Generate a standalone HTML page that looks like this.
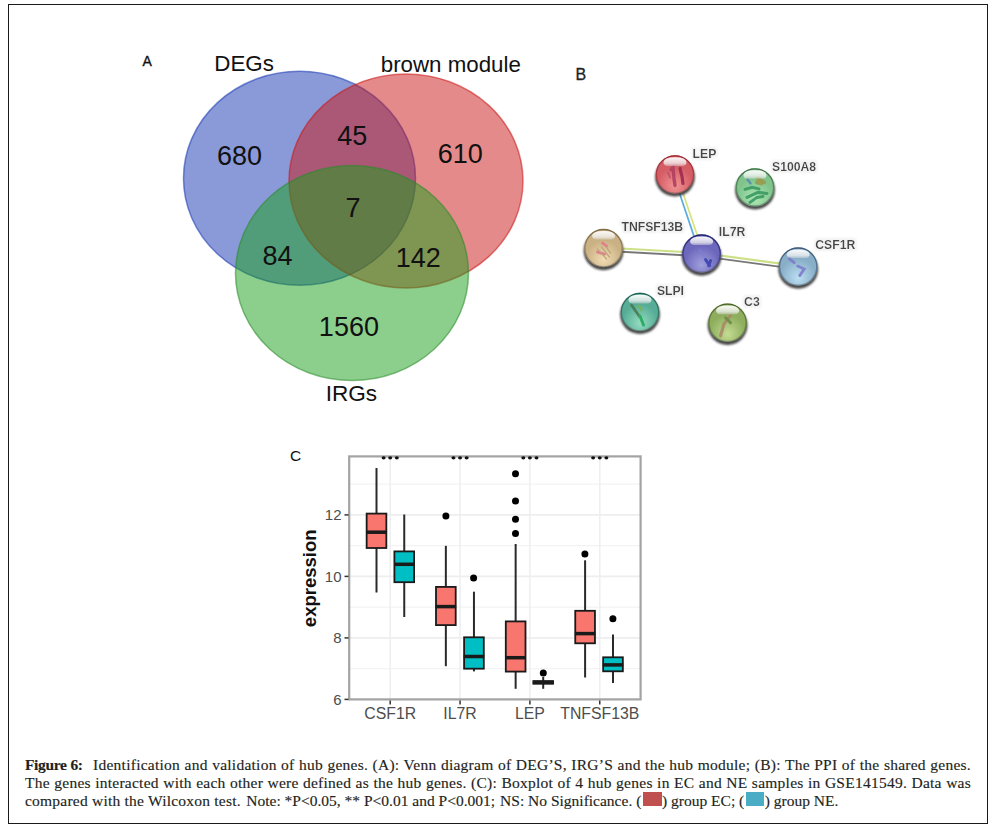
<!DOCTYPE html>
<html><head><meta charset="utf-8">
<style>
html,body{margin:0;padding:0;background:#fff;}
body{width:993px;height:829px;position:relative;overflow:hidden;}
#frame{position:absolute;left:8px;top:4px;width:980px;height:820px;box-sizing:border-box;border:1px solid #1a1a1a;}
svg{position:absolute;left:0;top:0;}
.cap{position:absolute;left:25px;width:946px;font-family:"Liberation Serif",serif;font-size:15.5px;color:#231f20;white-space:nowrap;text-align:justify;text-align-last:justify;line-height:18px;letter-spacing:0.25px;-webkit-text-stroke:0.15px #231f20;}
.cap3{position:absolute;left:25px;width:946px;height:18px;font-family:"Liberation Serif",serif;font-size:15.5px;color:#231f20;white-space:nowrap;line-height:18px;-webkit-text-stroke:0.15px #231f20;}
.cap3 span{position:absolute;top:0;}
.sw{position:absolute;top:0px;width:18.8px;height:13.8px;}
</style></head>
<body>
<div id="frame"></div>
<svg width="993" height="829" viewBox="0 0 993 829">
  <!-- Panel A: Venn -->
  <g font-family="Liberation Sans, sans-serif">
    <text x="142.5" y="66" font-size="14" fill="#111" stroke="#111" stroke-width="0.35">A</text>
    <ellipse cx="299.5" cy="178.3" rx="116" ry="107" fill="#1535b1" fill-opacity="0.5" stroke="#1535b1" stroke-opacity="0.55" stroke-width="1.5"/>
    <ellipse cx="406" cy="181" rx="117" ry="107" fill="#cb1515" fill-opacity="0.5" stroke="#cb1515" stroke-opacity="0.55" stroke-width="1.5"/>
    <ellipse cx="352" cy="273" rx="116.5" ry="107.5" fill="#199f19" fill-opacity="0.5" stroke="#2a8a2a" stroke-opacity="0.55" stroke-width="1.5"/>
    <g fill="#111" font-size="27" text-anchor="middle">
      <text x="239.5" y="165">680</text>
      <text x="352.3" y="145">45</text>
      <text x="460.3" y="163.4">610</text>
      <text x="353" y="216.7">7</text>
      <text x="277.5" y="264.9">84</text>
      <text x="418.3" y="267.4">142</text>
      <text x="348.9" y="336">1560</text>
    </g>
    <g fill="#111" font-size="21.5" text-anchor="middle">
      <text transform="translate(244.1,71.1) scale(1.04,1)">DEGs</text>
      <text transform="translate(450.8,71.6) scale(1.038,1)">brown module</text>
      <text transform="translate(351.4,400.7) scale(1.05,1)">IRGs</text>
    </g>
  </g>
<g stroke="#eeeeee" fill="none">
<line x1="349" x2="641" y1="668.65" y2="668.65" stroke="#f3f3f3" stroke-width="1.1"/>
<line x1="349" x2="641" y1="607.15" y2="607.15" stroke="#f3f3f3" stroke-width="1.1"/>
<line x1="349" x2="641" y1="545.65" y2="545.65" stroke="#f3f3f3" stroke-width="1.1"/>
<line x1="349" x2="641" y1="484.15" y2="484.15" stroke="#f3f3f3" stroke-width="1.1"/>
<line x1="349" x2="641" y1="637.90" y2="637.90" stroke-width="1.6"/>
<line x1="349" x2="641" y1="576.40" y2="576.40" stroke-width="1.6"/>
<line x1="349" x2="641" y1="514.90" y2="514.90" stroke-width="1.6"/>
<line x1="390.2" x2="390.2" y1="456" y2="700" stroke="#edeff3" stroke-width="1.6"/>
<line x1="460.05" x2="460.05" y1="456" y2="700" stroke="#edeff3" stroke-width="1.6"/>
<line x1="529.9" x2="529.9" y1="456" y2="700" stroke="#edeff3" stroke-width="1.6"/>
<line x1="599.75" x2="599.75" y1="456" y2="700" stroke="#edeff3" stroke-width="1.6"/>
</g>
<g stroke="#1a1a1a">
<line x1="376.5" x2="376.5" y1="468" y2="592.5" stroke="#2a2a2a" stroke-width="2"/>
<rect x="366.65" y="513.60" width="19.70" height="34.40" fill="#f8766d" stroke-width="1.8"/>
<line x1="366.25" x2="386.75" y1="532.2" y2="532.2" stroke-width="3.5"/>
<line x1="404.25" x2="404.25" y1="514.5" y2="617" stroke="#2a2a2a" stroke-width="2"/>
<rect x="394.40" y="551.40" width="19.70" height="30.80" fill="#00bfc4" stroke-width="1.8"/>
<line x1="394.00" x2="414.50" y1="564.3" y2="564.3" stroke-width="3.5"/>
<line x1="445.85" x2="445.85" y1="545.8" y2="666.2" stroke="#2a2a2a" stroke-width="2"/>
<rect x="436.00" y="586.90" width="19.70" height="38.20" fill="#f8766d" stroke-width="1.8"/>
<line x1="435.60" x2="456.10" y1="606.6" y2="606.6" stroke-width="3.5"/>
<line x1="473.95" x2="473.95" y1="591.7" y2="671.4" stroke="#2a2a2a" stroke-width="2"/>
<rect x="464.10" y="637.30" width="19.70" height="31.40" fill="#00bfc4" stroke-width="1.8"/>
<line x1="463.70" x2="484.20" y1="656.5" y2="656.5" stroke-width="3.5"/>
<line x1="515.65" x2="515.65" y1="544" y2="688.8" stroke="#2a2a2a" stroke-width="2"/>
<rect x="505.80" y="621.40" width="19.70" height="50.20" fill="#f8766d" stroke-width="1.8"/>
<line x1="505.40" x2="525.90" y1="657.7" y2="657.7" stroke-width="3.5"/>
<line x1="543.2" x2="543.2" y1="677" y2="688.8" stroke="#2a2a2a" stroke-width="2"/>
<rect x="533.35" y="681.10" width="19.70" height="2.60" fill="#00bfc4" stroke-width="1.8"/>
<line x1="532.95" x2="553.45" y1="682.4" y2="682.4" stroke-width="3.5"/>
<line x1="585.1" x2="585.1" y1="560.3" y2="677.5" stroke="#2a2a2a" stroke-width="2"/>
<rect x="575.25" y="610.80" width="19.70" height="32.50" fill="#f8766d" stroke-width="1.8"/>
<line x1="574.85" x2="595.35" y1="633.6" y2="633.6" stroke-width="3.5"/>
<line x1="613.0" x2="613.0" y1="634.6" y2="682.9" stroke="#2a2a2a" stroke-width="2"/>
<rect x="603.15" y="657.30" width="19.70" height="14.00" fill="#00bfc4" stroke-width="1.8"/>
<line x1="602.75" x2="623.25" y1="664.9" y2="664.9" stroke-width="3.5"/>
</g>
<g fill="#000">
<circle cx="445.9" cy="516" r="3.5"/>
<circle cx="473.6" cy="577.9" r="3.5"/>
<circle cx="515.5" cy="473.7" r="3.5"/>
<circle cx="515.5" cy="501" r="3.5"/>
<circle cx="515.5" cy="519.3" r="3.5"/>
<circle cx="515.5" cy="533.5" r="3.5"/>
<circle cx="543.3" cy="673.1" r="3.5"/>
<circle cx="584.9" cy="553.9" r="3.5"/>
<circle cx="612.9" cy="618.8" r="3.5"/>
</g>
<rect x="349.2" y="456.4" width="291.4" height="243" fill="none" stroke="#a3a3a3" stroke-width="2.2"/>
<g fill="#111">
<ellipse cx="383.60" cy="457.8" rx="2" ry="1.6"/>
<ellipse cx="390.20" cy="457.8" rx="2" ry="1.6"/>
<ellipse cx="396.80" cy="457.8" rx="2" ry="1.6"/>
<ellipse cx="453.45" cy="457.8" rx="2" ry="1.6"/>
<ellipse cx="460.05" cy="457.8" rx="2" ry="1.6"/>
<ellipse cx="466.65" cy="457.8" rx="2" ry="1.6"/>
<ellipse cx="523.30" cy="457.8" rx="2" ry="1.6"/>
<ellipse cx="529.90" cy="457.8" rx="2" ry="1.6"/>
<ellipse cx="536.50" cy="457.8" rx="2" ry="1.6"/>
<ellipse cx="593.15" cy="457.8" rx="2" ry="1.6"/>
<ellipse cx="599.75" cy="457.8" rx="2" ry="1.6"/>
<ellipse cx="606.35" cy="457.8" rx="2" ry="1.6"/>
</g>
<g stroke="#333" stroke-width="1.5">
<line x1="344.5" x2="348.5" y1="699.40" y2="699.40"/>
<line x1="344.5" x2="348.5" y1="637.90" y2="637.90"/>
<line x1="344.5" x2="348.5" y1="576.40" y2="576.40"/>
<line x1="344.5" x2="348.5" y1="514.90" y2="514.90"/>
<line x1="390.2" x2="390.2" y1="700.5" y2="704.5"/>
<line x1="460.05" x2="460.05" y1="700.5" y2="704.5"/>
<line x1="529.9" x2="529.9" y1="700.5" y2="704.5"/>
<line x1="599.75" x2="599.75" y1="700.5" y2="704.5"/>
</g>
<g fill="#4d4d4d" font-size="15" font-family="Liberation Sans, sans-serif">
<text x="341.5" y="704.70" text-anchor="end">6</text>
<text x="341.5" y="643.20" text-anchor="end">8</text>
<text x="341.5" y="581.70" text-anchor="end">10</text>
<text x="341.5" y="520.20" text-anchor="end">12</text>
<text x="390.2" y="719" text-anchor="middle" font-size="15.8">CSF1R</text>
<text x="460.05" y="719" text-anchor="middle" font-size="15.8">IL7R</text>
<text x="529.9" y="719" text-anchor="middle" font-size="15.8">LEP</text>
<text x="599.75" y="719" text-anchor="middle" font-size="15.8">TNFSF13B</text>
</g>
<text x="0" y="0" transform="translate(315.5,578.3) rotate(-90)" text-anchor="middle" font-size="18.5" font-weight="bold" fill="#111" font-family="Liberation Sans, sans-serif">expression</text>
<text x="290" y="461.3" font-size="15.5" fill="#111" font-family="Liberation Sans, sans-serif">C</text>
<defs>
<filter id="blur1" x="-30%" y="-30%" width="160%" height="160%"><feGaussianBlur stdDeviation="1"/></filter>
<filter id="blur05" x="-30%" y="-30%" width="160%" height="160%"><feGaussianBlur stdDeviation="0.45"/></filter>
<filter id="halo" x="-10%" y="-30%" width="120%" height="160%"><feMorphology operator="dilate" radius="1.5" in="SourceAlpha" result="d"/><feGaussianBlur in="d" stdDeviation="1" result="b"/><feFlood flood-color="#f2f2f2"/><feComposite in2="b" operator="in" result="h"/><feMerge><feMergeNode in="h"/><feMergeNode in="SourceGraphic"/></feMerge></filter>
<radialGradient id="g_LEP" cx="0.5" cy="0.74" r="0.62" fx="0.5" fy="0.8"><stop offset="0" stop-color="#f29494"/><stop offset="0.75" stop-color="#d45c64"/><stop offset="1" stop-color="#d45c64"/></radialGradient>
<linearGradient id="r_LEP" x1="0" y1="0" x2="0" y2="1"><stop offset="0" stop-color="#9a2a30"/><stop offset="0.6" stop-color="#9a2a30" stop-opacity="0.6"/><stop offset="1" stop-color="#555" stop-opacity="0.5"/></linearGradient>
<radialGradient id="g_S100A8" cx="0.5" cy="0.74" r="0.62" fx="0.5" fy="0.8"><stop offset="0" stop-color="#aee8b6"/><stop offset="0.75" stop-color="#80c48c"/><stop offset="1" stop-color="#80c48c"/></radialGradient>
<linearGradient id="r_S100A8" x1="0" y1="0" x2="0" y2="1"><stop offset="0" stop-color="#3e6e46"/><stop offset="0.6" stop-color="#3e6e46" stop-opacity="0.6"/><stop offset="1" stop-color="#555" stop-opacity="0.5"/></linearGradient>
<radialGradient id="g_TNFSF13B" cx="0.5" cy="0.74" r="0.62" fx="0.5" fy="0.8"><stop offset="0" stop-color="#f2dcb4"/><stop offset="0.75" stop-color="#c9b184"/><stop offset="1" stop-color="#c9b184"/></radialGradient>
<linearGradient id="r_TNFSF13B" x1="0" y1="0" x2="0" y2="1"><stop offset="0" stop-color="#7e6e48"/><stop offset="0.6" stop-color="#7e6e48" stop-opacity="0.6"/><stop offset="1" stop-color="#555" stop-opacity="0.5"/></linearGradient>
<radialGradient id="g_IL7R" cx="0.5" cy="0.74" r="0.62" fx="0.5" fy="0.8"><stop offset="0" stop-color="#a0a0dc"/><stop offset="0.75" stop-color="#6c66bc"/><stop offset="1" stop-color="#6c66bc"/></radialGradient>
<linearGradient id="r_IL7R" x1="0" y1="0" x2="0" y2="1"><stop offset="0" stop-color="#262670"/><stop offset="0.6" stop-color="#262670" stop-opacity="0.6"/><stop offset="1" stop-color="#555" stop-opacity="0.5"/></linearGradient>
<radialGradient id="g_CSF1R" cx="0.5" cy="0.74" r="0.62" fx="0.5" fy="0.8"><stop offset="0" stop-color="#bcdff2"/><stop offset="0.75" stop-color="#88aec8"/><stop offset="1" stop-color="#88aec8"/></radialGradient>
<linearGradient id="r_CSF1R" x1="0" y1="0" x2="0" y2="1"><stop offset="0" stop-color="#3e5a78"/><stop offset="0.6" stop-color="#3e5a78" stop-opacity="0.6"/><stop offset="1" stop-color="#555" stop-opacity="0.5"/></linearGradient>
<radialGradient id="g_SLPI" cx="0.5" cy="0.74" r="0.62" fx="0.5" fy="0.8"><stop offset="0" stop-color="#94dcc0"/><stop offset="0.75" stop-color="#56ac96"/><stop offset="1" stop-color="#56ac96"/></radialGradient>
<linearGradient id="r_SLPI" x1="0" y1="0" x2="0" y2="1"><stop offset="0" stop-color="#245e50"/><stop offset="0.6" stop-color="#245e50" stop-opacity="0.6"/><stop offset="1" stop-color="#555" stop-opacity="0.5"/></linearGradient>
<radialGradient id="g_C3" cx="0.5" cy="0.74" r="0.62" fx="0.5" fy="0.8"><stop offset="0" stop-color="#c4dc92"/><stop offset="0.75" stop-color="#8eae5e"/><stop offset="1" stop-color="#8eae5e"/></radialGradient>
<linearGradient id="r_C3" x1="0" y1="0" x2="0" y2="1"><stop offset="0" stop-color="#4a6428"/><stop offset="0.6" stop-color="#4a6428" stop-opacity="0.6"/><stop offset="1" stop-color="#555" stop-opacity="0.5"/></linearGradient>
<linearGradient id="hl" x1="0" y1="0" x2="0" y2="1"><stop offset="0" stop-color="#fff" stop-opacity="0.95"/><stop offset="0.7" stop-color="#f4f4f4" stop-opacity="0.75"/><stop offset="1" stop-color="#ddd" stop-opacity="0.45"/></linearGradient>
</defs>
<g>
<line x1="673.39" y1="175.04" x2="699.99" y2="254.14" stroke="#58ace0" stroke-width="1.7"/>
<line x1="676.61" y1="173.96" x2="703.21" y2="253.06" stroke="#d8e27c" stroke-width="1.7"/>
<line x1="603.40" y1="250.70" x2="701.45" y2="256.20" stroke="#777" stroke-width="1.9"/>
<line x1="603.58" y1="247.50" x2="701.63" y2="253.00" stroke="#cce088" stroke-width="2.1"/>
<line x1="701.25" y1="256.18" x2="797.85" y2="269.18" stroke="#777" stroke-width="1.9"/>
<line x1="701.68" y1="253.01" x2="798.28" y2="266.01" stroke="#cce088" stroke-width="2.1"/>
</g>
<g><ellipse cx="675.0" cy="177.1" rx="19.9" ry="19.5" fill="#3c3c3c" opacity="0.95" filter="url(#blur1)"/><circle cx="675.0" cy="174.5" r="19.2" fill="url(#g_LEP)"/><g transform="translate(675.0,174.5)" fill="none" stroke-linecap="round" filter="url(#blur05)" opacity="0.9"><path d="M-4,-5 L-2,-7 L-1,4 L0,11" stroke="#b04060" stroke-width="3.4"/><path d="M5,-6 L7,2 L8,9" stroke="#a02a50" stroke-width="3.2"/><path d="M-7,-2 L-5,3" stroke="#c05070" stroke-width="2"/></g><circle cx="675.0" cy="174.5" r="18.599999999999998" fill="none" stroke="url(#r_LEP)" stroke-width="1.3"/><path d="M663.5,162.0 Q664.0,157.3 675.0,157.3 Q686.0,157.3 686.5,162.0 Q686.5,165.9 682.0,165.9 L668.0,165.9 Q663.5,165.9 663.5,162.0 Z" fill="url(#hl)"/></g>
<g><ellipse cx="755.0" cy="190.0" rx="19.9" ry="19.5" fill="#3c3c3c" opacity="0.95" filter="url(#blur1)"/><circle cx="755.0" cy="187.4" r="19.2" fill="url(#g_S100A8)"/><g transform="translate(755.0,187.4)" fill="none" stroke-linecap="round" filter="url(#blur05)" opacity="0.9"><path d="M-7.5,-8 L-4.5,-4" stroke="#5a88b0" stroke-width="2.4"/><path d="M3,-9 L9,-5 M2,-5 L6,-4" stroke="#9a9a50" stroke-width="4"/><path d="M-10,2 L-3,0 L4,1.5 M-8,10 L3,5 L12,6 M-5,15 L2,10 L8,9" stroke="#3a9a62" stroke-width="3"/></g><circle cx="755.0" cy="187.4" r="18.599999999999998" fill="none" stroke="url(#r_S100A8)" stroke-width="1.3"/><path d="M743.5,174.9 Q744.0,170.20000000000002 755.0,170.20000000000002 Q766.0,170.20000000000002 766.5,174.9 Q766.5,178.8 762.0,178.8 L748.0,178.8 Q743.5,178.8 743.5,174.9 Z" fill="url(#hl)"/></g>
<g><ellipse cx="603.55" cy="250.7" rx="19.9" ry="19.5" fill="#3c3c3c" opacity="0.95" filter="url(#blur1)"/><circle cx="603.55" cy="248.1" r="19.2" fill="url(#g_TNFSF13B)"/><g transform="translate(603.55,248.1)" fill="none" stroke-linecap="round" filter="url(#blur05)" opacity="0.9"><path d="M-1,-5 L3,-2 M-6,4 L1,6" stroke="#e27a8c" stroke-width="3"/><path d="M-6,1 L3,11 M-2,-1 L6,9 M2,-2 L7,5" stroke="#b8a078" stroke-width="1.3"/></g><circle cx="603.55" cy="248.1" r="18.599999999999998" fill="none" stroke="url(#r_TNFSF13B)" stroke-width="1.3"/><path d="M592.05,235.6 Q592.55,230.9 603.55,230.9 Q614.55,230.9 615.05,235.6 Q615.05,239.5 610.55,239.5 L596.55,239.5 Q592.05,239.5 592.05,235.6 Z" fill="url(#hl)"/></g>
<g><ellipse cx="701.6" cy="256.2" rx="19.9" ry="19.5" fill="#3c3c3c" opacity="0.95" filter="url(#blur1)"/><circle cx="701.6" cy="253.6" r="19.2" fill="url(#g_IL7R)"/><g transform="translate(701.6,253.6)" fill="none" stroke-linecap="round" filter="url(#blur05)" opacity="0.9"><path d="M-2,-4 L5,7" stroke="#7a80d0" stroke-width="1.4"/><path d="M4,6 L8,12 M9,7 L7,12" stroke="#3a44b0" stroke-width="3"/></g><circle cx="701.6" cy="253.6" r="18.599999999999998" fill="none" stroke="url(#r_IL7R)" stroke-width="1.3"/><path d="M690.1,241.1 Q690.6,236.4 701.6,236.4 Q712.6,236.4 713.1,241.1 Q713.1,245.0 708.6,245.0 L694.6,245.0 Q690.1,245.0 690.1,241.1 Z" fill="url(#hl)"/></g>
<g><ellipse cx="798.2" cy="269.20000000000005" rx="19.9" ry="19.5" fill="#3c3c3c" opacity="0.95" filter="url(#blur1)"/><circle cx="798.2" cy="266.6" r="19.2" fill="url(#g_CSF1R)"/><g transform="translate(798.2,266.6)" fill="none" stroke-linecap="round" filter="url(#blur05)" opacity="0.9"><path d="M-9,-8 L-4,-4 M-0.5,-0.5 L6,2.5 L1.5,9" stroke="#7e7ccc" stroke-width="2.8"/></g><circle cx="798.2" cy="266.6" r="18.599999999999998" fill="none" stroke="url(#r_CSF1R)" stroke-width="1.3"/><path d="M786.7,254.10000000000002 Q787.2,249.40000000000003 798.2,249.40000000000003 Q809.2,249.40000000000003 809.7,254.10000000000002 Q809.7,258.0 805.2,258.0 L791.2,258.0 Q786.7,258.0 786.7,254.10000000000002 Z" fill="url(#hl)"/></g>
<g><ellipse cx="640.0" cy="314.6" rx="19.9" ry="19.5" fill="#3c3c3c" opacity="0.95" filter="url(#blur1)"/><circle cx="640.0" cy="312.0" r="19.2" fill="url(#g_SLPI)"/><g transform="translate(640.0,312.0)" fill="none" stroke-linecap="round" filter="url(#blur05)" opacity="0.9"><path d="M-8.5,-7 L-0.5,4.5" stroke="#4a7a52" stroke-width="2.8"/><path d="M0,4 L3.5,13" stroke="#26a85a" stroke-width="3"/><path d="M-1,-6 L1.5,-2" stroke="#78b458" stroke-width="2.6"/></g><circle cx="640.0" cy="312.0" r="18.599999999999998" fill="none" stroke="url(#r_SLPI)" stroke-width="1.3"/><path d="M628.5,299.5 Q629.0,294.8 640.0,294.8 Q651.0,294.8 651.5,299.5 Q651.5,303.4 647.0,303.4 L633.0,303.4 Q628.5,303.4 628.5,299.5 Z" fill="url(#hl)"/></g>
<g><ellipse cx="727.55" cy="325.40000000000003" rx="19.9" ry="19.5" fill="#3c3c3c" opacity="0.95" filter="url(#blur1)"/><circle cx="727.55" cy="322.8" r="19.2" fill="url(#g_C3)"/><g transform="translate(727.55,322.8)" fill="none" stroke-linecap="round" filter="url(#blur05)" opacity="0.9"><path d="M3,-7 L-3.5,1 L-7,13" stroke="#a88c68" stroke-width="3.2"/><path d="M-2,-5 L3,0" stroke="#6e8a4a" stroke-width="3"/></g><circle cx="727.55" cy="322.8" r="18.599999999999998" fill="none" stroke="url(#r_C3)" stroke-width="1.3"/><path d="M716.05,310.3 Q716.55,305.6 727.55,305.6 Q738.55,305.6 739.05,310.3 Q739.05,314.2 734.55,314.2 L720.55,314.2 Q716.05,314.2 716.05,310.3 Z" fill="url(#hl)"/></g>
<g font-family="Liberation Sans, sans-serif" font-size="12.2" font-weight="bold" fill="#444" filter="url(#halo)">
<text x="692.6" y="157.5">LEP</text>
<text x="772.0" y="170.5">S100A8</text>
<text x="621.5" y="230.9">TNFSF13B</text>
<text x="718.8" y="235.9">IL7R</text>
<text x="815.3" y="249.4">CSF1R</text>
<text x="656.9" y="294.8">SLPI</text>
<text x="744.1" y="305.8">C3</text>
</g>
<text x="575.5" y="79.9" font-family="Liberation Sans, sans-serif" font-size="16" fill="#222" stroke="#222" stroke-width="0.3">B</text>
</svg>
<div class="cap" style="top:756px"><b style="letter-spacing:-0.35px;margin-right:6px">Figure 6:</b> Identification and validation of hub genes. (A): Venn diagram of DEG’S, IRG’S and the hub module; (B): The PPI of the shared genes.</div>
<div class="cap" style="top:774px">The genes interacted with each other were defined as the hub genes. (C): Boxplot of 4 hub genes in EC and NE samples in GSE141549. Data was</div>
<div class="cap3" style="top:792px">
<span style="left:0px;letter-spacing:0.22px">compared with the Wilcoxon test.</span><span style="left:221.3px">Note: *P&lt;0.05, ** P&lt;0.01 and P&lt;0.001;</span><span style="left:475.1px">NS: No Significance. (</span><i class="sw" style="left:618px;background:#c0504d"></i><span style="left:637px">) group EC; (</span><i class="sw" style="left:720.6px;background:#4bacc6"></i><span style="left:739.8px">) group NE.</span>
</div>
</body></html>
